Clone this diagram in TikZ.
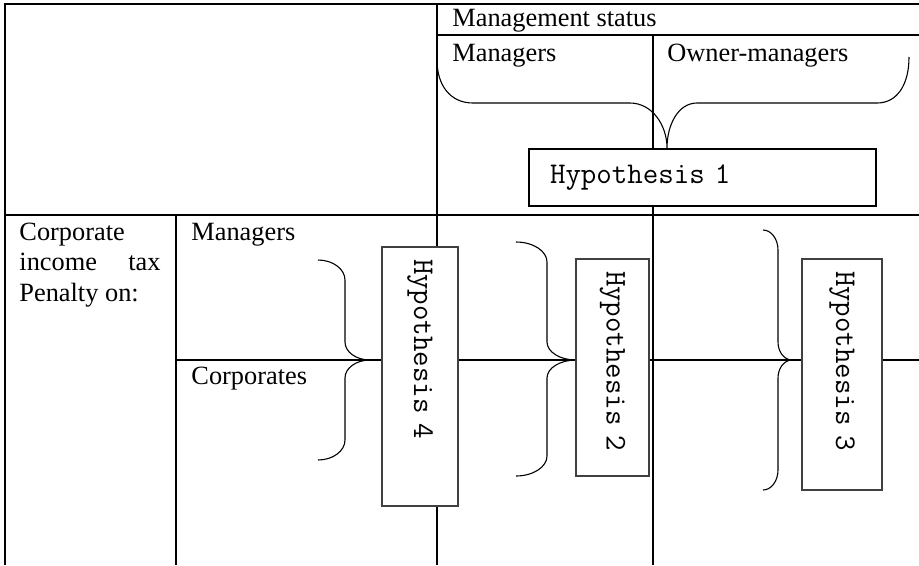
\documentclass[tikz,border=0pt]{standalone}
\usepackage{fontspec}
\setmainfont{Liberation Serif}
\usetikzlibrary{positioning}
\def\pixel{0.016cm} % one pixel of the layout
\tikzset{
        px/.style={x=\pixel, y=-\pixel}, % coordinates in pixels, y runs down
        tabline/.style={line width=0.7pt}, % lines of the table
        txt/.style={anchor=base west, inner sep=0pt, font=\fontsize{12}{13.9}\selectfont},
        hyp/.style={draw, fill=white, line width=0.6pt, align=left, inner ysep=0pt,
                font=\ttfamily\fontsize{13.7}{15}\selectfont},
        bracket/.style={line width=0.5pt},
}
% side brace: ends x, stem x, tip x, top y, bottom y (tip sits on the row line)
\newcommand{\sidebrace}[5]{%
  \draw[bracket] (#1,#4) .. controls ({#1+0.55*(#2-#1)},#4) and (#2,{#4+9}) .. (#2,{#4+20})
    -- (#2,342) .. controls (#2,352) and ({#2+0.45*(#3-#2)},360) .. (#3,360)
    .. controls ({#2+0.45*(#3-#2)},360) and (#2,368) .. (#2,378)
    -- (#2,{#5-20}) .. controls (#2,{#5-9}) and ({#1+0.55*(#2-#1)},#5) .. (#1,#5);
}
\begin{document}
\begin{tikzpicture}[px]
  \useasboundingbox (0,0) rectangle (919,565);
  % table
  \draw[tabline] (919,4) -- (5,4) -- (5,565);
  \draw[tabline] (437,4) -- (437,565);
  \draw[tabline] (437,35) -- (919,35);
  \draw[tabline] (653,35) -- (653,565);
  \draw[tabline] (5,215) -- (919,215);
  \draw[tabline] (176,215) -- (176,565);
  \draw[tabline] (176,360) -- (919,360);
  % headings
  \node[txt] (status) at (452,26) {Management status};
  \node[txt] (managers) at (452,61) {Managers};
  \node[txt] (owners) at (667,61) {Owner-managers};
  \node[txt, text width=141*\pixel, align=justify] (penalty) at (19,240) {Corporate income tax Penalty on:};
  \node[txt] (mantax) at (191,240) {Managers};
  \node[txt] (corptax) at (191,384) {Corporates};
  % braces
  \draw[bracket] (437,60) .. controls (437,85) and (450,103) .. (473,103) -- (630,103)
    .. controls (652,103) and (667,125) .. (667,148)
    .. controls (667,125) and (678,103) .. (697,103) -- (877,103)
    .. controls (897,103) and (909,85) .. (909,57);
  \sidebrace{318}{345}{370}{260}{460}
  \sidebrace{516}{547}{576}{242}{476}
  \sidebrace{763}{778}{792}{230}{490}
  % hypotheses
  \node[hyp, minimum height=57*\pixel, text width=305*\pixel, inner xsep=21*\pixel] (hypone) at (702.5,177.5) {Hypothesis 1};
  \node[hyp, draw=black!75, rotate=-90, minimum height=76*\pixel, text width=235*\pixel, inner xsep=12*\pixel] (hypfour) at (420,376.5) {Hypothesis 4};
  \node[hyp, draw=black!75, rotate=-90, minimum height=73*\pixel, text width=193*\pixel, inner xsep=12*\pixel] (hyptwo) at (612.5,367.5) {Hypothesis 2};
  \node[hyp, draw=black!75, rotate=-90, minimum height=80*\pixel, text width=207*\pixel, inner xsep=12*\pixel] (hypthree) at (842,374.5) {Hypothesis 3};
\end{tikzpicture}
\end{document}
